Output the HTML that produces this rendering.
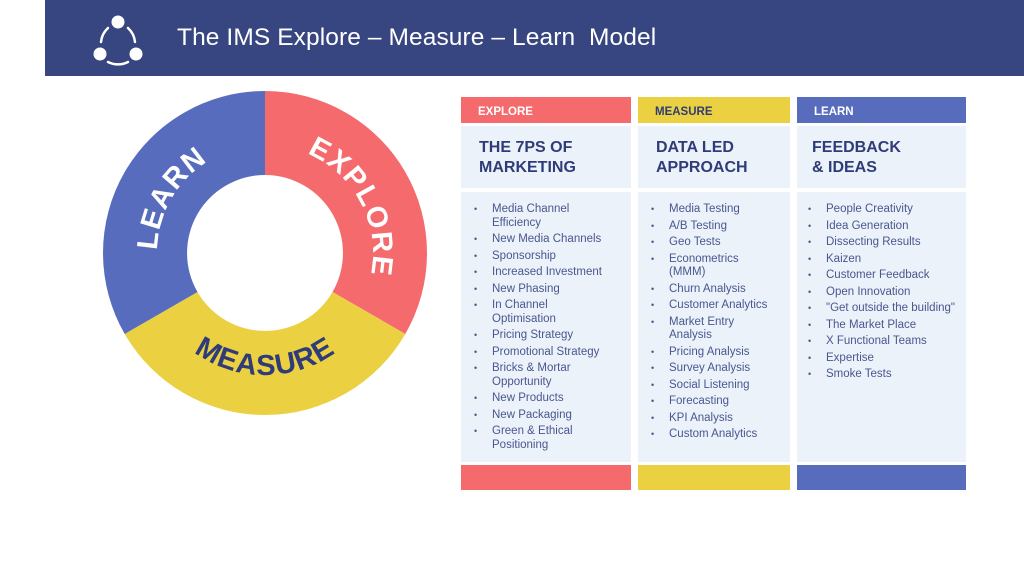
<!DOCTYPE html>
<html><head><meta charset="utf-8"><style>
body{margin:0;width:1024px;height:565px;background:#fff;position:relative;overflow:hidden;font-family:"Liberation Sans",sans-serif}
.hdr{position:absolute;left:45px;top:0;width:979px;height:76px;background:#374580}
.hdr h1{position:absolute;left:132px;top:24px;margin:0;color:#fff;font-weight:normal;font-size:24.5px;letter-spacing:0.1px}
.b{position:absolute}
.top{height:26px;top:97px;color:#fff;font-weight:bold;font-size:11.5px;line-height:30px;box-sizing:border-box;padding-left:17px}
.ttl{top:126px;height:62px;background:#ebf2f9;color:#2f3c78;font-weight:bold;font-size:16px;line-height:20px;box-sizing:border-box;padding:12px 0 0 18px}
.lst{top:192px;height:270px;background:#ebf2f9}
.foot{top:465px;height:25px}
ul{margin:0;padding:0;list-style:none;position:absolute;top:11px;left:13px;right:2px}
li{position:relative;padding-left:18px;color:#4a5690;font-size:11.5px;line-height:13.5px;margin-bottom:3px;white-space:nowrap}
li:before{content:"•";position:absolute;left:0;color:#4a5690;font-size:9px}
</style></head><body>
<div class="hdr">
<svg style="position:absolute;left:46px;top:13px" width="54" height="54" viewBox="0 0 54 54">
<circle cx="27" cy="9" r="6.5" fill="#fff"/><circle cx="9" cy="41" r="6.5" fill="#fff"/><circle cx="45" cy="41" r="6.5" fill="#fff"/>
<path d="M17 15 A22 22 0 0 0 10 29" stroke="#fff" stroke-width="2.5" fill="none" stroke-linecap="round"/>
<path d="M37 15 A22 22 0 0 1 44 29" stroke="#fff" stroke-width="2.5" fill="none" stroke-linecap="round"/>
<path d="M17 49 A22 22 0 0 0 37 49" stroke="#fff" stroke-width="2.5" fill="none" stroke-linecap="round"/>
</svg>
<h1>The IMS Explore – Measure – Learn&nbsp; Model</h1>
</div>
<svg class="b" style="left:0;top:0" width="450" height="565">
<defs>
<path id="pe" d="M265,145 A108,108 0 0 1 358.5,307"/>
<path id="pl" d="M171.5,307 A108,108 0 0 1 265,145"/>
<path id="pm2" d="M143,253 A122,122 0 0 0 387,253" fill="none"/>
</defs>
<path d="M265,91 A162,162 0 0 1 405.3,334 L332.5,292 A78,78 0 0 0 265,175 Z" fill="#f56b6d"/>
<path d="M405.3,334 A162,162 0 0 1 124.7,334 L197.5,292 A78,78 0 0 0 332.5,292 Z" fill="#ebd042"/>
<path d="M124.7,334 A162,162 0 0 1 265,91 L265,175 A78,78 0 0 0 197.5,292 Z" fill="#586cbe"/>
<text font-size="29" font-weight="bold" fill="#fff" letter-spacing="1.5"><textPath href="#pe" startOffset="52%" text-anchor="middle">EXPLORE</textPath></text>
<text font-size="29" font-weight="bold" fill="#fff" letter-spacing="1.5"><textPath href="#pl" startOffset="50%" text-anchor="middle">LEARN</textPath></text>
<text font-size="29" font-weight="bold" fill="#2f3c78" letter-spacing="1"><textPath href="#pm2" startOffset="50%" text-anchor="middle">MEASURE</textPath></text>
</svg>

<div class="b top" style="left:461px;width:170px;background:#f56b6d">EXPLORE</div>
<div class="b top" style="left:638px;width:152px;background:#ebd042;color:#2f3c78">MEASURE</div>
<div class="b top" style="left:797px;width:169px;background:#586cbe">LEARN</div>
<div class="b ttl" style="left:461px;width:170px">THE 7PS OF<br>MARKETING</div>
<div class="b ttl" style="left:638px;width:152px">DATA LED<br>APPROACH</div>
<div class="b ttl" style="left:797px;width:169px;padding-left:15px">FEEDBACK<br>&amp; IDEAS</div>
<div class="b lst" style="left:461px;width:170px"><ul>
<li>Media Channel<br>Efficiency</li><li>New Media Channels</li><li>Sponsorship</li><li>Increased Investment</li><li>New Phasing</li><li>In Channel<br>Optimisation</li><li>Pricing Strategy</li><li>Promotional Strategy</li><li>Bricks &amp; Mortar<br>Opportunity</li><li>New Products</li><li>New Packaging</li><li>Green &amp; Ethical<br>Positioning</li></ul></div>
<div class="b lst" style="left:638px;width:152px"><ul>
<li>Media Testing</li><li>A/B Testing</li><li>Geo Tests</li><li>Econometrics<br>(MMM)</li><li>Churn Analysis</li><li>Customer Analytics</li><li>Market Entry<br>Analysis</li><li>Pricing Analysis</li><li>Survey Analysis</li><li>Social Listening</li><li>Forecasting</li><li>KPI Analysis</li><li>Custom Analytics</li></ul></div>
<div class="b lst" style="left:797px;width:169px"><ul style="left:11px">
<li>People Creativity</li><li>Idea Generation</li><li>Dissecting Results</li><li>Kaizen</li><li>Customer Feedback</li><li>Open Innovation</li><li>"Get outside the building"</li><li>The Market Place</li><li>X Functional Teams</li><li>Expertise</li><li>Smoke Tests</li></ul></div>
<div class="b foot" style="left:461px;width:170px;background:#f56b6d"></div>
<div class="b foot" style="left:638px;width:152px;background:#ebd042"></div>
<div class="b foot" style="left:797px;width:169px;background:#586cbe"></div>
</body></html>
